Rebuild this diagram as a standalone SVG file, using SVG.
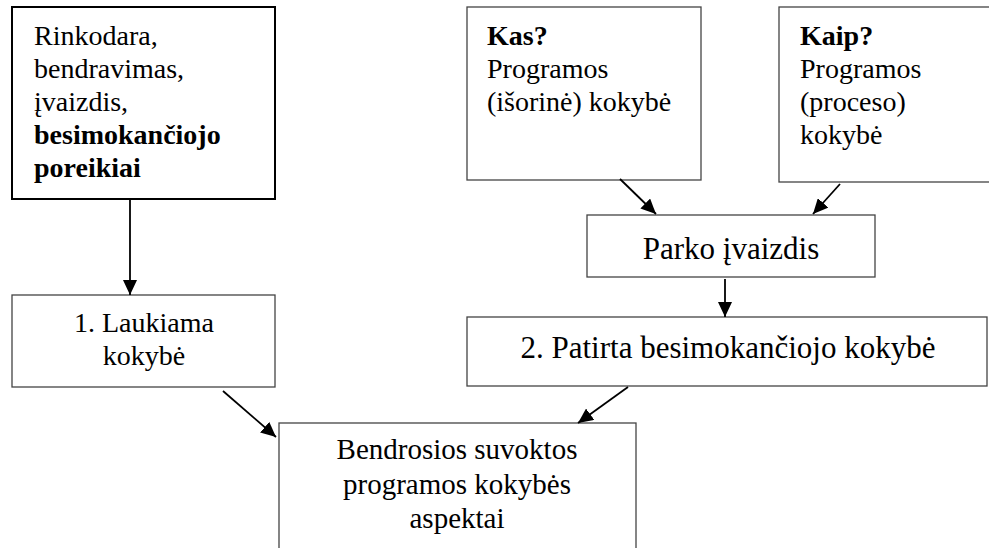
<svg xmlns="http://www.w3.org/2000/svg" width="989" height="548" viewBox="0 0 989 548">
<style>
.box{fill:#fff;stroke:#444;stroke-width:1.3}
.boxb{fill:#fff;stroke:#000;stroke-width:2}
text{font-family:'Liberation Serif','Times New Roman',Tinos,'DejaVu Serif',serif;font-size:28px;fill:#000}
.b{font-weight:bold}
.c{text-anchor:middle}
.conn line{stroke:#000;stroke-width:1.8;marker-end:url(#ah)}
</style>
<defs>
<marker id="ah" markerUnits="userSpaceOnUse" markerWidth="16" markerHeight="14" refX="15" refY="7" orient="auto">
<path d="M0,0 L15,7 L0,14 Z" fill="#000"/>
</marker>
</defs>
<rect width="989" height="548" fill="#fff"/>
<g id="n1" font-family="Liberation Serif, serif">
<rect class="boxb" x="12" y="7" width="263" height="192"/>
<text x="34" y="45">Rinkodara,</text>
<text x="34" y="78">bendravimas,</text>
<text x="34" y="111">įvaizdis,</text>
<text class="b" x="34" y="144">besimokančiojo</text>
<text class="b" x="34" y="177">poreikiai</text>
</g>
<g id="n2">
<rect class="box" x="467" y="7" width="234" height="173"/>
<text class="b" x="487" y="45">Kas?</text>
<text x="487" y="78">Programos</text>
<text x="487" y="111">(išorinė) kokybė</text>
</g>
<g id="n3">
<rect class="box" x="779" y="7" width="220" height="175"/>
<text class="b" x="800" y="45">Kaip?</text>
<text x="800" y="78">Programos</text>
<text x="800" y="111">(proceso)</text>
<text x="800" y="144">kokybė</text>
</g>
<g id="n4">
<rect class="box" x="587" y="215" width="288" height="62"/>
<text class="c" x="731" y="259" style="font-size:31px">Parko įvaizdis</text>
</g>
<g id="n5">
<rect class="box" x="12" y="295" width="263" height="92"/>
<text class="c" x="144" y="332">1. Laukiama</text>
<text class="c" x="144" y="365">kokybė</text>
</g>
<g id="n6">
<rect class="box" x="467" y="317" width="520" height="69"/>
<text class="c" x="728" y="358" style="font-size:31px">2. Patirta besimokančiojo kokybė</text>
</g>
<g id="n7">
<rect class="box" x="279" y="423" width="357" height="140"/>
<text class="c" x="457" y="459" style="font-size:29px">Bendrosios suvoktos</text>
<text class="c" x="457" y="494" style="font-size:29px">programos kokybės</text>
<text class="c" x="457" y="528" style="font-size:29px">aspektai</text>
</g>
<g class="conn" id="connectors">
<line x1="130" y1="199" x2="130" y2="295"/>
<line x1="620" y1="179" x2="656" y2="214"/>
<line x1="840" y1="184" x2="813" y2="214"/>
<line x1="725" y1="279" x2="725" y2="317"/>
<line x1="223" y1="391" x2="276" y2="437"/>
<line x1="628" y1="387" x2="578" y2="423"/>
</g>
</svg>
